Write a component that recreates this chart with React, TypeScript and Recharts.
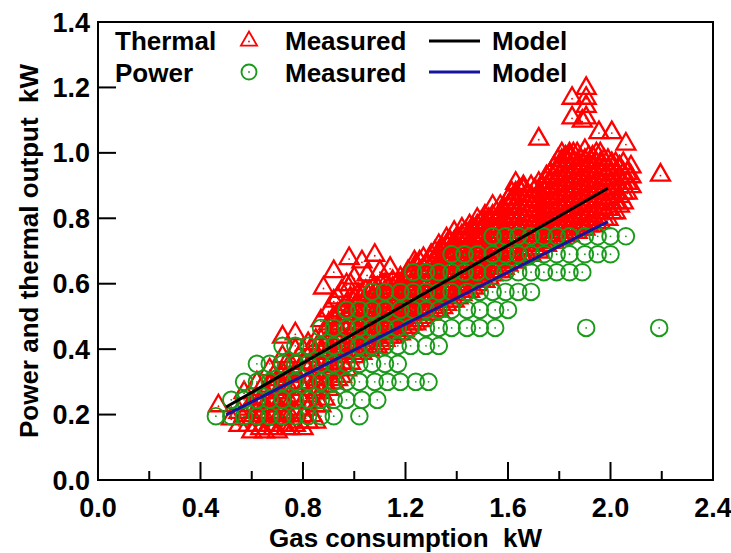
import { ScatterChart, Scatter, XAxis, YAxis, ReferenceArea, Legend, Label } from 'recharts';

const FONT = '"Liberation Sans", Arial, Helvetica, sans-serif';
const RED = '#ff0000';
const GREEN = '#1a9a1a';
const NAVY = '#14149c';

const xTicks = [0, 0.2, 0.4, 0.6, 0.8, 1.0, 1.2, 1.4, 1.6, 1.8, 2.0, 2.2, 2.4];
const yTicks = [0, 0.2, 0.4, 0.6, 0.8, 1.0, 1.2, 1.4];

// thermal measured, grouped by gas consumption: [gas kW, thermal kW values]
const thermalColumns: [number, number[]][] = [
  [0.47, [0.23]],
  [0.52, [0.19]],
  [0.55, [0.17, 0.21]],
  [0.57, [0.20, 0.27]],
  [0.60, [0.15, 0.19, 0.23]],
  [0.62, [0.17, 0.21, 0.25, 0.30]],
  [0.65, [0.15, 0.19, 0.23, 0.27]],
  [0.67, [0.17, 0.21, 0.25, 0.29, 0.34]],
  [0.70, [0.15, 0.19, 0.23, 0.27, 0.31]],
  [0.72, [0.17, 0.21, 0.25, 0.29, 0.33, 0.38, 0.44]],
  [0.75, [0.16, 0.20, 0.24, 0.28, 0.32, 0.36]],
  [0.77, [0.17, 0.21, 0.25, 0.29, 0.33, 0.40, 0.45]],
  [0.80, [0.16, 0.20, 0.24, 0.28, 0.32, 0.36, 0.40]],
  [0.82, [0.18, 0.22, 0.26, 0.30, 0.34, 0.38, 0.42]],
  [0.85, [0.18, 0.23, 0.27, 0.31, 0.35, 0.39, 0.43]],
  [0.87, [0.23, 0.27, 0.31, 0.35, 0.39, 0.43, 0.49]],
  [0.88, [0.59]],
  [0.90, [0.28, 0.32, 0.36, 0.40, 0.44, 0.48, 0.52]],
  [0.92, [0.30, 0.34, 0.38, 0.42, 0.46, 0.50, 0.55, 0.64]],
  [0.95, [0.32, 0.36, 0.40, 0.44, 0.48, 0.52, 0.58]],
  [0.97, [0.34, 0.38, 0.42, 0.46, 0.50, 0.54, 0.60]],
  [0.98, [0.68]],
  [1.00, [0.38, 0.41, 0.44, 0.47, 0.50, 0.53, 0.56, 0.62]],
  [1.03, [0.39, 0.42, 0.45, 0.48, 0.51, 0.54, 0.57, 0.67]],
  [1.05, [0.63]],
  [1.06, [0.40, 0.43, 0.46, 0.49, 0.52, 0.55, 0.58]],
  [1.08, [0.69]],
  [1.09, [0.41, 0.44, 0.47, 0.50, 0.53, 0.56, 0.59]],
  [1.10, [0.64]],
  [1.12, [0.43, 0.46, 0.49, 0.52, 0.55, 0.58, 0.60]],
  [1.14, [0.65]],
  [1.15, [0.44, 0.47, 0.50, 0.53, 0.56, 0.59, 0.61]],
  [1.18, [0.45, 0.48, 0.51, 0.54, 0.57, 0.60, 0.62]],
  [1.21, [0.47, 0.50, 0.53, 0.56, 0.59, 0.62, 0.64]],
  [1.235, [0.67]],
  [1.24, [0.48, 0.51, 0.54, 0.57, 0.60, 0.63, 0.66]],
  [1.27, [0.50, 0.53, 0.56, 0.59, 0.62, 0.65, 0.68]],
  [1.30, [0.51, 0.54, 0.57, 0.60, 0.63, 0.66, 0.69]],
  [1.33, [0.52, 0.55, 0.58, 0.61, 0.64, 0.67, 0.70, 0.72]],
  [1.36, [0.54, 0.57, 0.60, 0.63, 0.66, 0.69, 0.72, 0.74]],
  [1.39, [0.55, 0.58, 0.61, 0.64, 0.67, 0.70, 0.73, 0.76]],
  [1.42, [0.57, 0.60, 0.63, 0.66, 0.69, 0.72, 0.75, 0.77]],
  [1.45, [0.58, 0.61, 0.64, 0.67, 0.70, 0.73, 0.76, 0.78]],
  [1.48, [0.60, 0.63, 0.66, 0.69, 0.72, 0.75, 0.78, 0.80]],
  [1.51, [0.61, 0.64, 0.67, 0.70, 0.73, 0.76, 0.79, 0.81]],
  [1.54, [0.63, 0.66, 0.69, 0.72, 0.75, 0.78, 0.81, 0.84]],
  [1.57, [0.64, 0.67, 0.70, 0.73, 0.76, 0.79, 0.82, 0.84]],
  [1.60, [0.66, 0.69, 0.72, 0.75, 0.78, 0.81, 0.84, 0.86]],
  [1.63, [0.67, 0.70, 0.73, 0.76, 0.79, 0.82, 0.85, 0.88, 0.91]],
  [1.66, [0.68, 0.71, 0.74, 0.77, 0.80, 0.83, 0.86, 0.89, 0.90]],
  [1.69, [0.69, 0.72, 0.75, 0.78, 0.81, 0.84, 0.87, 0.90]],
  [1.72, [0.70, 0.73, 0.76, 0.79, 0.82, 0.85, 0.88, 0.91, 1.045]],
  [1.75, [0.72, 0.75, 0.78, 0.81, 0.84, 0.87, 0.90, 0.93]],
  [1.78, [0.73, 0.76, 0.79, 0.82, 0.85, 0.88, 0.91, 0.94, 0.96]],
  [1.81, [0.74, 0.77, 0.80, 0.83, 0.86, 0.89, 0.92, 0.95, 0.98, 1.00]],
  [1.84, [0.75, 0.78, 0.81, 0.84, 0.87, 0.90, 0.93, 0.96, 0.99, 1.00]],
  [1.85, [1.11, 1.17]],
  [1.87, [0.76, 0.79, 0.82, 0.85, 0.88, 0.91, 0.94, 0.97, 1.00]],
  [1.89, [1.10]],
  [1.90, [0.77, 0.80, 0.83, 0.86, 0.89, 0.92, 0.95, 0.98, 1.01]],
  [1.905, [1.11, 1.145, 1.17, 1.20]],
  [1.93, [0.78, 0.81, 0.84, 0.87, 0.90, 0.93, 0.96, 0.99]],
  [1.955, [1.065]],
  [1.96, [0.79, 0.82, 0.85, 0.88, 0.91, 0.94, 0.97, 1.00]],
  [1.99, [0.80, 0.83, 0.86, 0.89, 0.92, 0.95, 0.98]],
  [2.005, [1.065]],
  [2.02, [0.82, 0.85, 0.88, 0.91, 0.94, 0.97]],
  [2.05, [0.85, 0.88, 0.91, 0.94, 0.97]],
  [2.06, [1.03]],
  [2.08, [0.90, 0.93, 0.96]],
  [2.195, [0.935]],
];

// thermal measured, the readings that sit between the columns above
const thermalColumnsB: [number, number[]][] = [
  [0.585, [0.17, 0.22]],
  [0.635, [0.16, 0.20, 0.24, 0.28]],
  [0.685, [0.16, 0.20, 0.24, 0.28, 0.32]],
  [0.735, [0.16, 0.20, 0.24, 0.28, 0.32, 0.36]],
  [0.785, [0.18, 0.22, 0.26, 0.30, 0.34, 0.38]],
  [0.835, [0.20, 0.24, 0.28, 0.32, 0.36, 0.40]],
  [0.885, [0.25, 0.29, 0.33, 0.37, 0.41, 0.45]],
  [0.935, [0.31, 0.35, 0.39, 0.43, 0.47, 0.51, 0.56]],
  [0.985, [0.36, 0.40, 0.44, 0.48, 0.52, 0.56, 0.60]],
  [1.015, [0.39, 0.42, 0.45, 0.48, 0.51, 0.54, 0.57]],
  [1.045, [0.40, 0.43, 0.46, 0.49, 0.52, 0.55, 0.58]],
  [1.075, [0.41, 0.44, 0.47, 0.50, 0.53, 0.56, 0.59]],
  [1.105, [0.42, 0.45, 0.48, 0.51, 0.54, 0.57, 0.60]],
  [1.135, [0.44, 0.47, 0.50, 0.53, 0.56, 0.59]],
  [1.165, [0.45, 0.48, 0.51, 0.54, 0.57, 0.60]],
  [1.195, [0.46, 0.49, 0.52, 0.55, 0.58, 0.61]],
  [1.225, [0.48, 0.51, 0.54, 0.57, 0.60, 0.63]],
  [1.255, [0.49, 0.52, 0.55, 0.58, 0.61, 0.64, 0.67]],
  [1.285, [0.51, 0.54, 0.57, 0.60, 0.63, 0.66]],
  [1.315, [0.52, 0.55, 0.58, 0.61, 0.64, 0.67, 0.70]],
  [1.345, [0.53, 0.56, 0.59, 0.62, 0.65, 0.68, 0.71]],
  [1.375, [0.55, 0.58, 0.61, 0.64, 0.67, 0.70, 0.73]],
  [1.405, [0.56, 0.59, 0.62, 0.65, 0.68, 0.71, 0.74]],
  [1.435, [0.58, 0.61, 0.64, 0.67, 0.70, 0.73, 0.76]],
  [1.465, [0.59, 0.62, 0.65, 0.68, 0.71, 0.74, 0.77]],
  [1.495, [0.61, 0.64, 0.67, 0.70, 0.73, 0.76, 0.79]],
  [1.525, [0.62, 0.65, 0.68, 0.71, 0.74, 0.77, 0.80]],
  [1.555, [0.64, 0.67, 0.70, 0.73, 0.76, 0.79, 0.82]],
  [1.585, [0.65, 0.68, 0.71, 0.74, 0.77, 0.80, 0.83]],
  [1.615, [0.67, 0.70, 0.73, 0.76, 0.79, 0.82, 0.85, 0.88]],
  [1.645, [0.68, 0.71, 0.74, 0.77, 0.80, 0.83, 0.86, 0.89]],
  [1.675, [0.69, 0.72, 0.75, 0.78, 0.81, 0.84, 0.87]],
  [1.705, [0.71, 0.74, 0.77, 0.80, 0.83, 0.86, 0.89]],
  [1.735, [0.72, 0.75, 0.78, 0.81, 0.84, 0.87, 0.90]],
  [1.765, [0.73, 0.76, 0.79, 0.82, 0.85, 0.88, 0.91, 0.94]],
  [1.795, [0.74, 0.77, 0.80, 0.83, 0.86, 0.89, 0.92, 0.95, 0.98]],
  [1.825, [0.75, 0.78, 0.81, 0.84, 0.87, 0.90, 0.93, 0.96, 0.99]],
  [1.855, [0.76, 0.79, 0.82, 0.85, 0.88, 0.91, 0.94, 0.97, 1.00]],
  [1.885, [0.77, 0.80, 0.83, 0.86, 0.89, 0.92, 0.95, 0.98]],
  [1.915, [0.78, 0.81, 0.84, 0.87, 0.90, 0.93, 0.96, 0.99]],
  [1.945, [0.79, 0.82, 0.85, 0.88, 0.91, 0.94, 0.97, 1.00]],
  [1.975, [0.80, 0.83, 0.86, 0.89, 0.92, 0.95, 0.98]],
  [2.005, [0.82, 0.85, 0.88, 0.91, 0.94, 0.97]],
  [2.035, [0.84, 0.87, 0.90, 0.93, 0.96]],
  [2.065, [0.88, 0.91, 0.94]],
];

// power measured, grouped by power level: [power kW, gas kW values]
const powerRows: [number, number[]][] = [
  [0.195, [0.46, 0.52, 0.57, 0.62, 0.67, 0.72, 0.77, 0.82, 0.87, 0.92, 1.02]],
  [0.245, [0.52, 0.57, 0.62, 0.67, 0.72, 0.77, 0.82, 0.87, 0.92, 0.97, 1.03, 1.09]],
  [0.30, [0.57, 0.62, 0.67, 0.72, 0.77, 0.82, 0.87, 0.92, 0.97, 1.02, 1.08, 1.13, 1.18, 1.24, 1.29]],
  [0.355, [0.62, 0.67, 0.72, 0.77, 0.82, 0.87, 0.92, 0.97, 1.02, 1.07, 1.12, 1.17]],
  [0.41, [0.72, 0.77, 0.82, 0.87, 0.92, 0.97, 1.02, 1.07, 1.12, 1.17, 1.22, 1.28, 1.33]],
  [0.465, [0.87, 0.92, 0.97, 1.02, 1.07, 1.12, 1.17, 1.22, 1.28, 1.33, 1.38, 1.44, 1.49, 1.55, 1.905, 2.19]],
  [0.52, [0.97, 1.02, 1.07, 1.12, 1.18, 1.23, 1.28, 1.33, 1.38, 1.44, 1.49, 1.55, 1.60]],
  [0.575, [1.07, 1.12, 1.18, 1.23, 1.28, 1.33, 1.38, 1.44, 1.49, 1.54, 1.59, 1.64, 1.69]],
  [0.635, [1.23, 1.28, 1.33, 1.38, 1.43, 1.48, 1.54, 1.59, 1.64, 1.69, 1.74, 1.79, 1.84, 1.89]],
  [0.69, [1.38, 1.43, 1.48, 1.54, 1.59, 1.64, 1.69, 1.74, 1.79, 1.84, 1.90, 1.95, 2.00]],
  [0.745, [1.54, 1.59, 1.64, 1.69, 1.74, 1.79, 1.84, 1.90, 1.95, 2.00, 2.06]],
];

// model lines: [gas kW, output kW]
const thermalModel: [number, number][] = [[0.5, 0.223], [1.99, 0.892]];
const powerModel: [number, number][] = [[0.5, 0.199], [1.99, 0.79]];

const thermalData = [...thermalColumns, ...thermalColumnsB].flatMap(([x, ys]) => ys.map((y) => ({ x, y })));
const powerData = powerRows.flatMap(([y, xs]) => xs.map((x) => ({ x, y })));
const thermalModelData = thermalModel.map(([x, y]) => ({ x, y }));
const powerModelData = powerModel.map(([x, y]) => ({ x, y }));

const textStyle = { fontFamily: FONT, fontWeight: 700, fontSize: 26, fill: '#000' };
const tickStyle = { ...textStyle, fontSize: 27 };

function TriangleMark({ cx, cy, small }: any) {
  if (cx == null || cy == null) return <g />;
  const s = small ? 0.85 : 1;
  return (
    <g>
      <polygon
        points={`${cx},${cy - 10 * s} ${cx - 9.5 * s},${cy + 6.5 * s} ${cx + 9.5 * s},${cy + 6.5 * s}`}
        fill="none"
        stroke={RED}
        strokeWidth={small ? 1.8 : 2.3}
      />
      <circle cx={cx} cy={cy + 1.5} r={0.9} fill={RED} />
    </g>
  );
}

function CircleMark({ cx, cy, small }: any) {
  if (cx == null || cy == null) return <g />;
  return (
    <g>
      <circle cx={cx} cy={cy} r={small ? 7.5 : 8.3} fill="none" stroke={GREEN} strokeWidth={1.9} />
      <circle cx={cx} cy={cy} r={0.9} fill={GREEN} />
    </g>
  );
}

function XTick({ x, y, payload }: any) {
  const v = payload.value as number;
  const major = Math.round(v * 10) % 4 === 0;
  return (
    <g>
      <line x1={x} x2={x} y1={y} y2={y - (major ? 18 : 9)} stroke="#000" strokeWidth={2} />
      {major && (
        <text x={x} y={y + 37} textAnchor="middle" style={tickStyle}>
          {v.toFixed(1)}
        </text>
      )}
    </g>
  );
}

function YTick({ x, y, payload }: any) {
  const v = payload.value as number;
  return (
    <g>
      <line x1={x} x2={x + 18} y1={y} y2={y} stroke="#000" strokeWidth={2} />
      <text x={x - 8} y={y + 9.5} textAnchor="end" style={tickStyle}>
        {v.toFixed(1)}
      </text>
    </g>
  );
}

function LegendBox() {
  return (
    <svg width={731} height={100} style={{ position: 'absolute', left: 0, top: 0, overflow: 'visible' }}>
      <text x={115} y={50} style={textStyle}>Thermal</text>
      <TriangleMark cx={249} cy={40} small />
      <text x={285} y={50} style={textStyle}>Measured</text>
      <line x1={429} x2={480} y1={41} y2={41} stroke="#000" strokeWidth={3} />
      <text x={492} y={50} style={textStyle}>Model</text>

      <text x={115} y={82} style={textStyle}>Power</text>
      <CircleMark cx={249} cy={72} small />
      <text x={285} y={82} style={textStyle}>Measured</text>
      <line x1={429} x2={480} y1={72} y2={72} stroke={NAVY} strokeWidth={3} />
      <text x={492} y={82} style={textStyle}>Model</text>
    </svg>
  );
}

export default function App() {
  return (
    <div style={{ position: 'absolute', left: 0, top: 0, background: '#fff' }}>
      <ScatterChart width={731} height={553} margin={{ top: 22, right: 18, bottom: 0, left: 0 }}>
        <XAxis
          type="number"
          dataKey="x"
          domain={[0, 2.4]}
          ticks={xTicks}
          interval={0}
          height={73}
          tickSize={0}
          tickMargin={0}
          tickLine={false}
          axisLine={{ stroke: '#000', strokeWidth: 2 }}
          tick={<XTick />}
        >
          <Label
            content={({ viewBox }: any) => (
              <text
                x={viewBox.x + viewBox.width / 2}
                y={viewBox.y + 67}
                textAnchor="middle"
                style={{ ...textStyle, whiteSpace: 'pre' }}
              >
                {'Gas consumption  kW'}
              </text>
            )}
          />
        </XAxis>
        <YAxis
          type="number"
          dataKey="y"
          domain={[0, 1.4]}
          ticks={yTicks}
          interval={0}
          width={98}
          tickSize={0}
          tickMargin={0}
          tickLine={false}
          axisLine={{ stroke: '#000', strokeWidth: 2 }}
          tick={<YTick />}
        >
          <Label
            content={({ viewBox }: any) => {
              const cx = 38;
              const cy = viewBox.y + viewBox.height / 2;
              return (
                <text
                  x={cx}
                  y={cy}
                  transform={`rotate(-90 ${cx} ${cy})`}
                  textAnchor="middle"
                  style={{ ...textStyle, whiteSpace: 'pre' }}
                >
                  {'Power and thermal output  kW'}
                </text>
              );
            }}
          />
        </YAxis>
        <ReferenceArea x1={0} x2={2.4} y1={0} y2={1.4} fill="none" stroke="#000" strokeWidth={2} />
        <Scatter name="Thermal measured" data={thermalData} shape={<TriangleMark />} isAnimationActive={false} />
        <Scatter name="Power measured" data={powerData} shape={<CircleMark />} isAnimationActive={false} />
        <Scatter
          name="Thermal model"
          data={thermalModelData}
          line={{ stroke: '#000', strokeWidth: 3 }}
          shape={() => <g />}
          isAnimationActive={false}
        />
        <Scatter
          name="Power model"
          data={powerModelData}
          line={{ stroke: NAVY, strokeWidth: 3 }}
          shape={() => <g />}
          isAnimationActive={false}
        />
        <Legend
          layout="horizontal"
          verticalAlign="middle"
          align="center"
          wrapperStyle={{ left: 0, top: 0, width: 731, height: 100 }}
          content={() => <LegendBox />}
        />
      </ScatterChart>
    </div>
  );
}
